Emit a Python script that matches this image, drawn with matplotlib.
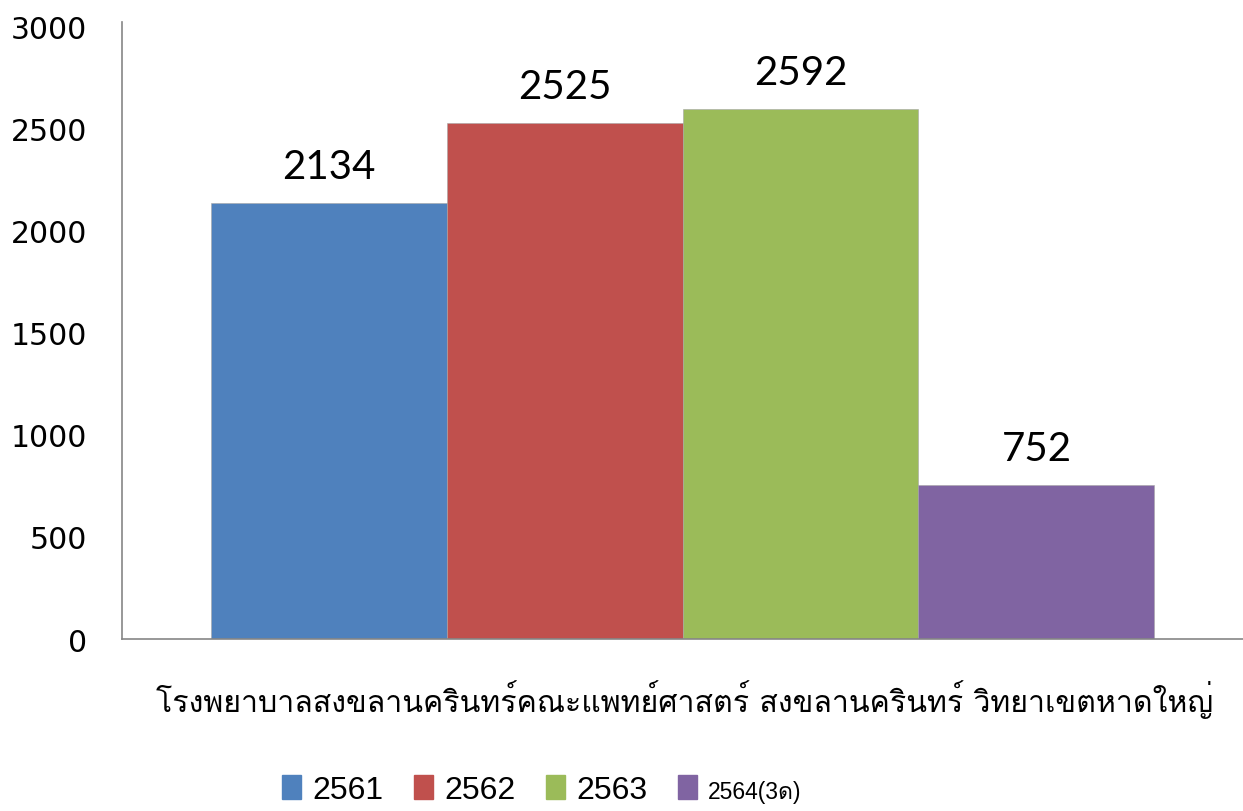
import matplotlib
matplotlib.use("Agg")
import matplotlib.pyplot as plt
from matplotlib import font_manager, ft2font
from matplotlib.patches import Rectangle

# data
series = ['2561', '2562', '2563', '2564(3ด)']
values = [2134, 2525, 2592, 752]
colors = ['#4F81BD', '#C0504D', '#9BBB59', '#8064A2']
category = 'โรงพยาบาลสงขลานครินทร์คณะแพทย์ศาสตร์ สงขลานครินทร์ วิทยาเขตหาดใหญ่'
yticks = [0, 500, 1000, 1500, 2000, 2500, 3000]

# find an installed font that has Thai glyphs
thai_font = None
for f in font_manager.fontManager.ttflist:
    try:
        if ord('ก') in ft2font.FT2Font(f.fname).get_charmap():
            thai_font = f.name
            break
    except Exception:
        pass
fam = [thai_font, 'DejaVu Sans'] if thai_font else ['DejaVu Sans']
names = {f.name for f in font_manager.fontManager.ttflist}
narrow = 'Liberation Sans Narrow' if 'Liberation Sans Narrow' in names else 'Liberation Sans'

fig = plt.figure(figsize=(12.43, 8.12), dpi=100)
ax = fig.add_axes([122/1243, 1 - 640/812, 1 - 122/1243, (640 - 23)/812])

width = 0.2105
start = -1.5 * width
for i, (s, v, c) in enumerate(zip(series, values, colors)):
    x = start + i * width
    ax.bar(x, v, width, color=c, edgecolor='#a6a6a6', linewidth=0.4)
    ax.text(x, v + 90, str(v), ha='center', va='bottom', fontsize=29,
            family=['Lato', 'DejaVu Sans'])

ax.set_xlim(-0.5, 0.5)
ax.set_ylim(0, 3020)
ax.set_yticks(yticks)
ax.set_yticklabels([str(t) for t in yticks], fontsize=21.5, family='DejaVu Sans')
ax.tick_params(axis='y', length=0, pad=25)
ax.set_xticks([])
for side in ['top', 'right']:
    ax.spines[side].set_visible(False)
for side in ['left', 'bottom']:
    ax.spines[side].set_color('#868686')
    ax.spines[side].set_linewidth(1.2)

fig.text(685/1243, 1 - 700/812, category, ha='center', va='center',
         fontsize=21.8, family=fam)

handles = [Rectangle((0, 0), 1, 1, color=c) for c in colors]
leg = fig.legend(handles, series, loc='center', bbox_to_anchor=(542/1243, 1 - 791/812),
                 ncol=4, frameon=False, handlelength=0.6, handleheight=0.78,
                 handletextpad=0.35, columnspacing=0.95,
                 prop={'family': [narrow] + fam, 'size': 23})
texts = leg.get_texts()
texts[-1].set_fontsize(16.5)

fig.savefig('out.png', dpi=100)
